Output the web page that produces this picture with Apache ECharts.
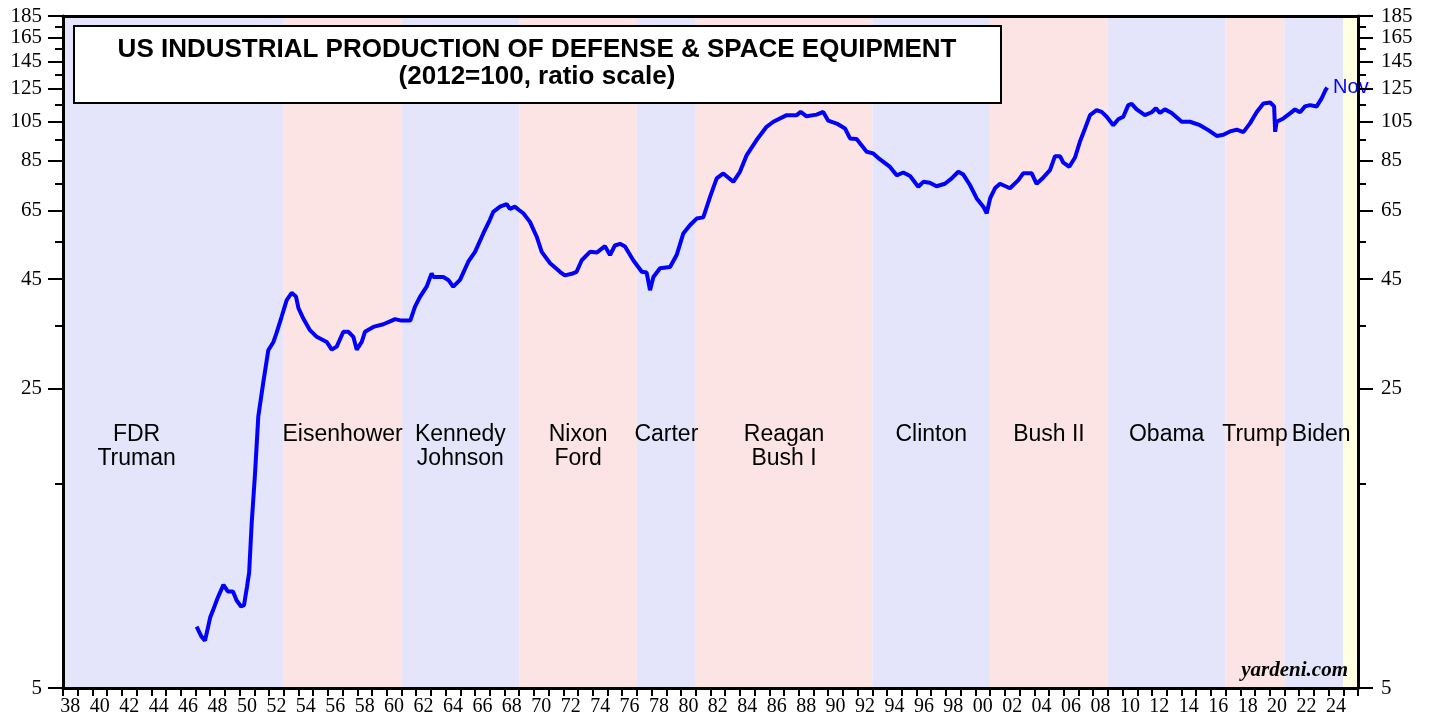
<!DOCTYPE html>
<html lang="en" style="height: 100%">
<head>
  <meta charset="utf-8">
</head>
<body style="height: 100%; margin: 0; background: #fff">
  <div id="container" style="width: 1429px; height: 719px"></div>

  <script type="text/javascript" src="https://cdn.jsdelivr.net/npm/echarts@6/dist/echarts.min.js"></script>

  <script type="text/javascript">
    // defense & space equipment index (2012=100)
    var years = [
      1947.08, 1947.4, 1947.65, 1948.0, 1948.2, 1948.5, 1948.9, 1949.2, 1949.55, 1949.8,
      1950.1, 1950.3, 1950.5, 1950.65, 1950.82, 1951.05, 1951.27, 1951.6, 1951.95, 1952.3,
      1952.5, 1952.85, 1953.2, 1953.54, 1953.83, 1954.0, 1954.33, 1954.78, 1955.24, 1955.92,
      1956.26, 1956.6, 1957.05, 1957.4, 1957.73, 1957.96, 1958.3, 1958.52, 1959.09, 1959.77,
      1960.34, 1960.56, 1961.0, 1961.6, 1961.92, 1962.26, 1962.71, 1963.05, 1963.16, 1963.84,
      1964.18, 1964.52, 1964.98, 1965.54, 1966.0, 1966.56, 1967.0, 1967.24, 1967.7, 1968.15,
      1968.37, 1968.72, 1968.94, 1969.28, 1969.73, 1970.19, 1970.53, 1971.1, 1971.77, 1972.1,
      1972.57, 1972.9, 1973.25, 1973.81, 1974.27, 1974.83, 1975.17, 1975.5, 1975.85, 1976.19,
      1976.75, 1977.33, 1977.66, 1977.89, 1978.12, 1978.57, 1979.25, 1979.7, 1980.15, 1980.6,
      1981.06, 1981.51, 1981.97, 1982.42, 1982.87, 1983.55, 1984.0, 1984.46, 1985.13, 1985.81,
      1986.27, 1987.18, 1987.86, 1988.13, 1988.53, 1989.21, 1989.66, 1990.0, 1990.58, 1991.14,
      1991.48, 1991.93, 1992.61, 1993.06, 1993.52, 1994.2, 1994.65, 1995.1, 1995.56, 1996.12,
      1996.46, 1996.9, 1997.36, 1997.93, 1998.39, 1998.84, 1999.18, 1999.63, 2000.09, 2000.54,
      2000.77, 2001.0, 2001.33, 2001.67, 2002.35, 2002.92, 2003.26, 2003.82, 2004.16, 2004.62,
      2005.07, 2005.41, 2005.75, 2005.98, 2006.38, 2006.77, 2007.1, 2007.45, 2007.79, 2008.24,
      2008.58, 2008.92, 2009.37, 2009.71, 2010.05, 2010.39, 2010.62, 2010.96, 2011.52, 2011.98,
      2012.27, 2012.54, 2012.88, 2013.34, 2014.02, 2014.58, 2015.26, 2015.83, 2016.4, 2016.85,
      2017.3, 2017.76, 2018.21, 2018.66, 2019.12, 2019.57, 2020.03, 2020.3, 2020.37, 2020.47,
      2020.93, 2021.38, 2021.72, 2022.06, 2022.4, 2022.74, 2023.19, 2023.53, 2023.77, 2023.9
    ];
    var values = [
      6.95, 6.6, 6.45, 7.3, 7.6, 8.1, 8.7, 8.4, 8.4, 8.0,
      7.75, 7.8, 8.6, 9.3, 12.1, 15.85, 21.5, 25.7, 30.7, 32.1,
      33.6, 36.7, 40.2, 41.8, 41.0, 38.5, 36.4, 34.2, 33.0, 32.1,
      30.8, 31.3, 33.9, 33.9, 33.0, 30.8, 32.1, 33.9, 34.8, 35.3,
      36.0, 36.3, 36.0, 36.0, 38.8, 40.9, 43.2, 46.4, 45.5, 45.5,
      44.8, 43.2, 44.8, 49.4, 52.1, 57.5, 61.8, 64.6, 66.4, 67.3,
      65.6, 66.4, 65.4, 64.1, 61.2, 56.5, 52.1, 49.0, 46.8, 45.9,
      46.3, 46.8, 49.8, 52.1, 51.9, 53.7, 51.2, 53.9, 54.4, 53.6,
      49.8, 46.8, 46.6, 42.4, 45.5, 47.7, 48.0, 51.2, 57.5, 60.1,
      62.3, 62.7, 70.0, 77.3, 79.4, 75.9, 80.1, 87.6, 95.0, 102.0,
      104.8, 108.6, 108.6, 110.5, 107.9, 108.9, 110.5, 105.4, 103.8, 101.1,
      95.8, 95.5, 89.2, 88.4, 85.6, 82.2, 78.6, 79.8, 78.3, 73.9,
      75.9, 75.5, 74.1, 75.1, 77.3, 80.1, 78.9, 74.6, 69.4, 66.4,
      64.1, 69.4, 73.3, 75.1, 73.3, 76.6, 79.5, 79.5, 75.1, 77.7,
      80.8, 87.1, 87.1, 84.1, 82.3, 86.5, 94.1, 101.1, 108.6, 111.5,
      110.5, 107.7, 102.9, 106.2, 107.7, 114.6, 115.4, 112.0, 108.6, 110.3,
      112.7, 109.9, 112.0, 109.9, 104.8, 104.8, 102.9, 100.2, 97.1, 97.7,
      99.5, 100.4, 99.1, 103.9, 110.5, 115.6, 116.2, 113.8, 99.3, 104.8,
      106.7, 109.6, 112.0, 110.3, 113.8, 114.6, 113.8, 118.8, 123.8, 126.0
    ];

    // ratio scale ticks
    var yLabelValues = [5, 25, 45, 65, 85, 105, 125, 145, 165, 185];
    var yMinorValues = [15, 35, 55, 75, 95, 115, 135, 155, 175];

    // presidential terms (shading + names)
    var bandStarts = [1938, 1953, 1961, 1969, 1977, 1981, 1993, 2001, 2009, 2017, 2021, 2025];
    var bandEnds = [1953, 1961, 1969, 1977, 1981, 1993, 2001, 2009, 2017, 2021, 2025, 2026];
    var bandParty = ['D', 'R', 'D', 'R', 'D', 'R', 'D', 'R', 'D', 'R', 'D', 'F'];
    var termNames = ['FDR\nTruman', 'Eisenhower', 'Kennedy\nJohnson', 'Nixon\nFord', 'Carter',
      'Reagan\nBush I', 'Clinton', 'Bush II', 'Obama', 'Trump', 'Biden'];
    var termStarts = [1933, 1953, 1961, 1969, 1977, 1981, 1993, 2001, 2009, 2017, 2021];
    var termEnds = [1953, 1961, 1969, 1977, 1981, 1993, 2001, 2009, 2017, 2021, 2029];

    var xMin = 1938, xMax = 2026;
    var yMin = 5, yMax = 185;
    var nameLevel = 20.8;

    var partyColor = { D: '#e4e4fa', R: '#fde4e4', F: '#ffffe2' };
    var lg = function (v) { return Math.log10(v); };

    var lineData = years.map(function (y, i) { return [y, lg(values[i])]; });
    var bands = bandStarts.map(function (s, i) {
      return [{ xAxis: s, itemStyle: { color: partyColor[bandParty[i]] } }, { xAxis: bandEnds[i] }];
    });
    var nameData = termNames.map(function (n, i) {
      var mid = (termStarts[i] + Math.min(termEnds[i], xMax)) / 2;
      return { value: [mid, lg(nameLevel)], name: n };
    });

    var xTicks = [];
    for (var y = xMin; y <= xMax; y++) xTicks.push(y);
    var xLabels = [];
    for (var y2 = xMin; y2 < xMax - 1; y2 += 2) xLabels.push(y2 + 0.5);

    var serif = 'Liberation Serif';
    var sans = 'Liberation Sans';

    function yAxisDef(pos, minor) {
      return {
        type: 'value', position: pos, min: lg(yMin), max: lg(yMax), z: 5,
        axisLine: { show: !minor, lineStyle: { color: '#000', width: 3 } },
        splitLine: { show: false },
        axisTick: {
          show: true, inside: false, length: minor ? 8 : 15,
          lineStyle: { color: '#000', width: 2 },
          customValues: (minor ? yMinorValues : yLabelValues).map(lg)
        },
        axisLabel: {
          show: !minor, margin: pos === 'left' ? 21 : 23,
          fontFamily: serif, fontSize: 21, color: '#000',
          customValues: yLabelValues.map(lg),
          formatter: function (v) { return String(Math.round(Math.pow(10, v))); }
        }
      };
    }

    var dom = document.getElementById('container');
    var myChart = echarts.init(dom, null, { renderer: 'canvas' });

    var option = {
      animation: false,
      backgroundColor: '#fff',
      grid: { left: 63, right: 71, top: 16, bottom: 31 },
      xAxis: [
        {
          type: 'value', position: 'bottom', min: xMin, max: xMax, z: 5,
          axisLine: { lineStyle: { color: '#000', width: 3 } },
          splitLine: { show: false },
          axisTick: { inside: false, length: 8, lineStyle: { color: '#000', width: 2 }, customValues: xTicks },
          axisLabel: {
            margin: 9, fontFamily: serif, fontSize: 20, color: '#000',
            customValues: xLabels,
            formatter: function (v) { return ('0' + (Math.floor(v) % 100)).slice(-2); }
          }
        },
        {
          type: 'value', position: 'top', min: xMin, max: xMax, z: 5,
          axisLine: { lineStyle: { color: '#000', width: 3 } },
          splitLine: { show: false }, axisTick: { show: false }, axisLabel: { show: false }
        }
      ],
      yAxis: [yAxisDef('left', false), yAxisDef('right', false), yAxisDef('left', true), yAxisDef('right', true)],
      graphic: [
        {
          type: 'rect', left: 73, top: 25, z: 20,
          shape: { width: 927, height: 77 },
          style: { fill: '#fff', stroke: '#000', lineWidth: 2 }
        },
        {
          type: 'text', x: 537, y: 50, z: 21,
          style: {
            text: 'US INDUSTRIAL PRODUCTION OF DEFENSE & SPACE EQUIPMENT',
            font: 'bold 26px "Liberation Sans"', fill: '#000', align: 'center', verticalAlign: 'middle'
          }
        },
        {
          type: 'text', x: 537, y: 77, z: 21,
          style: {
            text: '(2012=100, ratio scale)',
            font: 'bold 26px "Liberation Sans"', fill: '#000', align: 'center', verticalAlign: 'middle'
          }
        },
        {
          type: 'text', right: 81, top: 660, z: 21,
          style: { text: 'yardeni.com', font: 'italic bold 21px "Liberation Serif"', fill: '#000' }
        }
      ],
      series: [
        {
          name: 'bands', type: 'line', data: [], silent: true,
          markArea: { silent: true, data: bands, label: { show: false } }
        },
        {
          name: 'terms', type: 'scatter', data: nameData, symbolSize: 1, silent: true,
          itemStyle: { color: 'rgba(0,0,0,0)', opacity: 1 },
          labelLayout: { hideOverlap: false },
          label: {
            show: true, position: 'inside', align: 'center', verticalAlign: 'top',
            fontFamily: sans, fontSize: 23, lineHeight: 24, color: '#000', opacity: 1,
            formatter: '{b}'
          }
        },
        {
          name: 'Defense & Space Equipment', type: 'line', data: lineData,
          showSymbol: false, symbol: 'none', z: 4,
          lineStyle: { color: '#0000ff', width: 4 },
          endLabel: {
            show: true, formatter: 'Nov', color: '#0000ff',
            fontFamily: sans, fontSize: 20, distance: 6
          }
        }
      ]
    };

    myChart.setOption(option);
    window.addEventListener('resize', myChart.resize);
  </script>
</body>
</html>
